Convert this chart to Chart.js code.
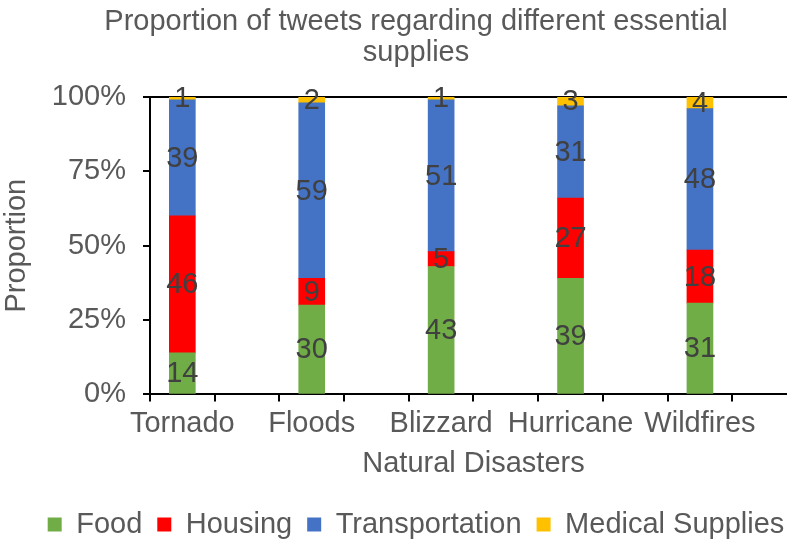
<!DOCTYPE html>
<html>
<head>
<meta charset="utf-8">
<script src="https://cdn.jsdelivr.net/npm/chart.js@4.4.1/dist/chart.umd.min.js"></script>
<style>
  html, body { margin: 0; padding: 0; background: #fff; overflow: hidden; }
  #wrap { width: 787px; height: 542px; overflow: hidden; position: relative; }
  #box { width: 832px; height: 549px; position: absolute; left: 0; top: 0; }
</style>
</head>
<body>
<div id="wrap">
  <div id="box"><canvas id="chart" width="832" height="549"></canvas></div>
</div>
<script>
// Data
const categories     = ['Tornado', 'Floods', 'Blizzard', 'Hurricane', 'Wildfires'];
const food           = [14, 30, 43, 39, 31];
const housing        = [46,  9,  5, 27, 18];
const transportation = [39, 59, 51, 31, 48];
const medical        = [ 1,  2,  1,  3,  4];
const seriesNames    = ['Food', 'Housing', 'Transportation', 'Medical Supplies'];
const seriesColors   = ['#70AD47', '#FF0000', '#4472C4', '#FFC000'];

const FONT = "'Liberation Sans', Arial, sans-serif";
const GREY = '#595959';

// every category sits in its own slot with an empty slot after it
const slots = [];
categories.forEach(c => { slots.push(c); slots.push(''); });

const series = [food, housing, transportation, medical];
const totals = categories.map((_, i) => series.reduce((s, arr) => s + arr[i], 0));

const spread = (arr, fn) => {
  const out = [];
  arr.forEach((v, i) => { out.push(fn(v, i)); out.push(null); });
  return out;
};

const datasets = series.map((arr, k) => ({
  label:           seriesNames[k],
  data:            spread(arr, (v, i) => v / totals[i] * 100),
  raw:             spread(arr, v => v),
  backgroundColor: seriesColors[k],
  borderWidth:     0,
  barThickness:    26,
}));

// value labels in the middle of each segment
const valueLabels = {
  id: 'valueLabels',
  afterDatasetsDraw(chart) {
    const ctx = chart.ctx;
    ctx.save();
    ctx.font = '29px ' + FONT;
    ctx.fillStyle = '#404040';
    ctx.textAlign = 'center';
    ctx.textBaseline = 'middle';
    chart.data.datasets.forEach((ds, di) => {
      const meta = chart.getDatasetMeta(di);
      meta.data.forEach((bar, i) => {
        if (ds.raw[i] == null) return;
        const p = bar.getCenterPoint();
        ctx.fillText(String(ds.raw[i]), p.x, p.y + 1);
      });
    });
    ctx.restore();
  },
};

new Chart(document.getElementById('chart'), {
  type: 'bar',
  data: { labels: slots, datasets },
  plugins: [valueLabels],
  options: {
    responsive: false,
    animation:  false,
    layout: { padding: { left: 0, right: 0, top: 7, bottom: 0 } },
    scales: {
      x: {
        stacked: true,
        offset:  true,
        grid: {
          offset:          true,
          drawOnChartArea: false,
          color:           '#000',
          tickColor:       '#000',
          tickLength:      7,
          lineWidth:       2,
        },
        border: { display: true, color: '#000', width: 2 },
        ticks: {
          autoSkip:    false,
          maxRotation: 0,
          padding:     5,
          color:       GREY,
          font:        { family: FONT, size: 29 },
        },
        title: {
          display: true,
          text:    'Natural Disasters',
          color:   GREY,
          font:    { family: FONT, size: 29 },
          padding: { top: 0, bottom: 14 },
        },
      },
      y: {
        stacked: true,
        min:     0,
        max:     100,
        grid: {
          color:      c => (c.tick && c.tick.value === 100 ? '#000' : 'rgba(0,0,0,0)'),
          tickColor:  '#000',
          tickLength: 7,
          lineWidth:  2,
        },
        border: { display: true, color: '#000', width: 2 },
        ticks: {
          stepSize: 25,
          padding:  17,
          color:    GREY,
          font:     { family: FONT, size: 29 },
          callback: v => v + '%',
        },
        title: {
          display: true,
          text:    'Proportion',
          color:   GREY,
          font:    { family: FONT, size: 29 },
          padding: { top: 0, bottom: 0 },
        },
      },
      // empty space on the right, so the plot ends where the reference does
      spacer: {
        type:     'linear',
        position: 'right',
        display:  true,
        grid:     { display: false, drawTicks: false },
        border:   { display: false },
        ticks:    { display: false },
        afterFit: s => { s.width = 35; },
      },
    },
    plugins: {
      title: {
        display: true,
        text:    ['Proportion of tweets regarding different essential', 'supplies'],
        color:   GREY,
        font:    { family: FONT, size: 29, weight: 'normal', lineHeight: 1.05 },
        padding: { top: 0, bottom: 29 },
      },
      legend: {
        position: 'bottom',
        labels: {
          boxWidth:  14,
          boxHeight: 14,
          padding:   15,
          color:     GREY,
          font:      { family: FONT, size: 29 },
        },
      },
      tooltip: { enabled: false },
    },
  },
});
</script>
</body>
</html>
